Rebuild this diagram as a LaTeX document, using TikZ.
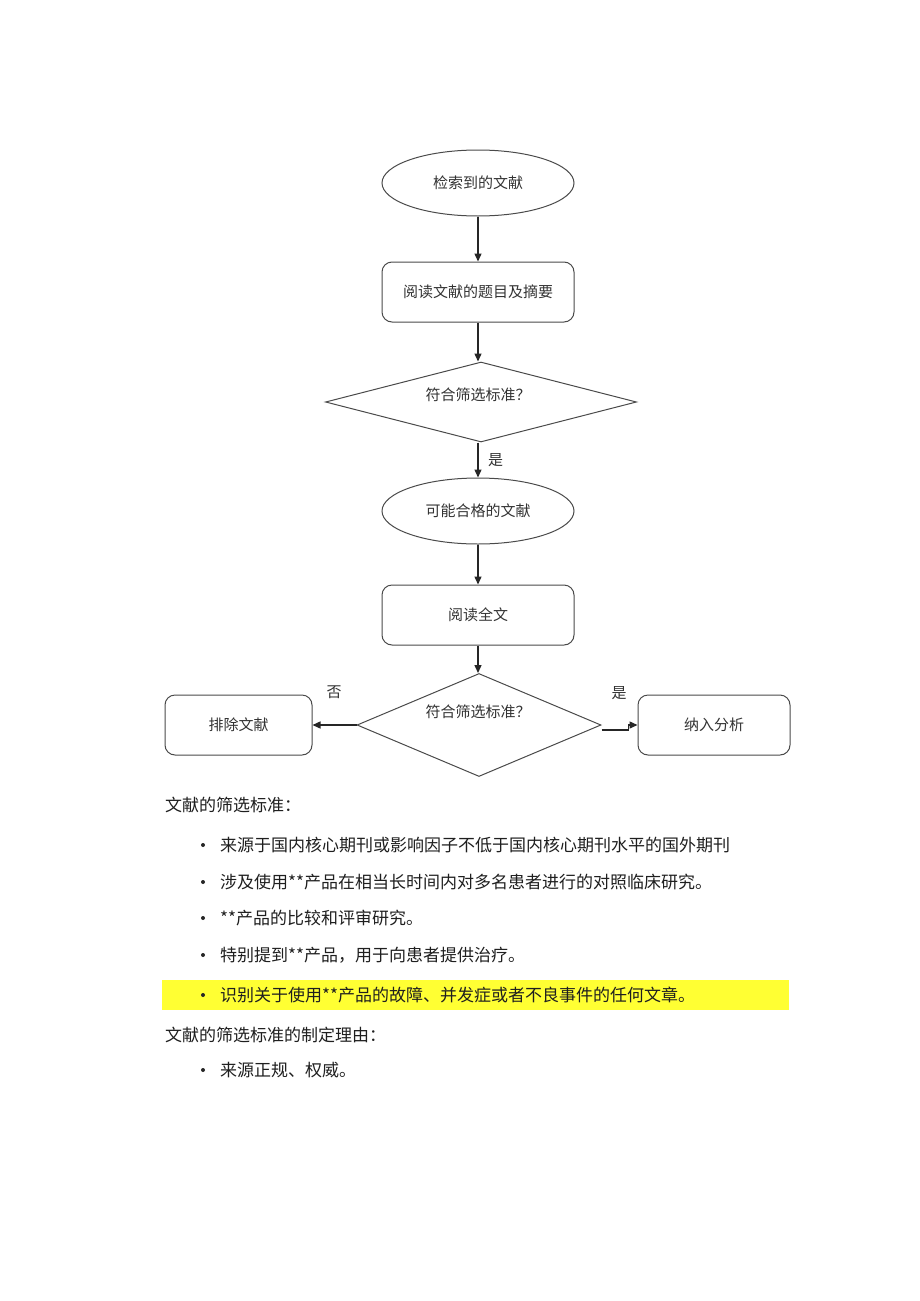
\documentclass[tikz,border=0pt]{standalone}
\usepackage{fontspec}
\setmainfont{Noto Sans CJK SC}
\usetikzlibrary{shapes.geometric,arrows.meta}
\definecolor{bordercol}{HTML}{4A4A4A}
\definecolor{txtcol}{HTML}{333333}
\definecolor{hl}{HTML}{FFFF33}
\begin{document}
\begin{tikzpicture}[x=1pt,y=-1pt,
  flowtext/.style={font=\fontsize{15}{18}\selectfont, text=txtcol},
  oval/.style={ellipse, draw=bordercol, line width=1pt, minimum width=192pt, minimum height=66pt, inner sep=0pt, flowtext},
  rbox/.style={rectangle, rounded corners=10pt, draw=bordercol, line width=1pt, minimum height=60pt, inner sep=0pt, flowtext},
  dia/.style={diamond, draw=bordercol, line width=1pt, inner sep=0pt},
  arr/.style={-{Triangle[width=7pt,length=8pt]}, line width=1.4pt, black!85},
  lbl/.style={font=\fontsize{15}{18}\selectfont, text=txtcol},
  body/.style={anchor=west, font=\fontsize{17}{20}\selectfont, text=black!88, inner sep=0pt},
  dot/.style={circle, fill=black!85, inner sep=0pt, minimum size=4pt}
]
\useasboundingbox (0,0) rectangle (920,1301);
\fill[white] (0,0) rectangle (920,1301);

% flowchart
\node[oval] (e1) at (478,183) {检索到的文献};
\node[rbox, minimum width=192pt] (r1) at (478,292) {阅读文献的题目及摘要};
\node[dia, minimum width=311pt, minimum height=80pt] (d1) at (481,402) {};
\node[lbl] (d1t) at (478,395) {符合筛选标准？};
\node[oval] (e2) at (478,511) {可能合格的文献};
\node[rbox, minimum width=192pt] (r2) at (478,615) {阅读全文};
\node[dia, minimum width=244pt, minimum height=103pt] (d2) at (479,725) {};
\node[lbl] (d2t) at (478,712) {符合筛选标准？};
\node[rbox, minimum width=147pt] (rl) at (238.5,725) {排除文献};
\node[rbox, minimum width=152pt] (rr) at (714,725) {纳入分析};

\draw[arr] (e1.south) -- (r1.north);
\draw[arr] (r1.south) -- (r1.south |- d1.north);
\draw[arr] (e2.north |- d1.south) -- (e2.north) node[lbl, midway, right=6pt] (yes1) {是};
\draw[arr] (e2.south) -- (r2.north);
\draw[arr] (r2.south) -- (r2.south |- d2.north);
\draw[arr] (d2.west) -- (rl.east);
\coordinate (j1) at ([yshift=-5pt]d2.east);
\coordinate (j2) at ([xshift=27pt]j1);
\draw[arr] (j1) -- (j2) |- (rr.west);
\node[lbl] (no2) at (334,692) {否};
\node[lbl] (yes2) at (619,693) {是};

% highlight
\fill[hl] (162,980) rectangle (789,1010);

% text
\node[body] (h1) at (165,805) {文献的筛选标准：};
\node[dot] (b1) at (203,845) {};
\node[body] (t1) at (220,845) {来源于国内核心期刊或影响因子不低于国内核心期刊水平的国外期刊};
\node[dot] (b2) at (203,882) {};
\node[body] (t2) at (220,882) {涉及使用**产品在相当长时间内对多名患者进行的对照临床研究。};
\node[dot] (b3) at (203,918) {};
\node[body] (t3) at (220,918) {**产品的比较和评审研究。};
\node[dot] (b4) at (203,955) {};
\node[body] (t4) at (220,955) {特别提到**产品，用于向患者提供治疗。};
\node[dot] (b5) at (203,995) {};
\node[body] (t5) at (220,995) {识别关于使用**产品的故障、并发症或者不良事件的任何文章。};
\node[body] (h2) at (165,1035) {文献的筛选标准的制定理由：};
\node[dot] (b6) at (203,1070) {};
\node[body] (t6) at (220,1070) {来源正规、权威。};
\end{tikzpicture}
\end{document}
